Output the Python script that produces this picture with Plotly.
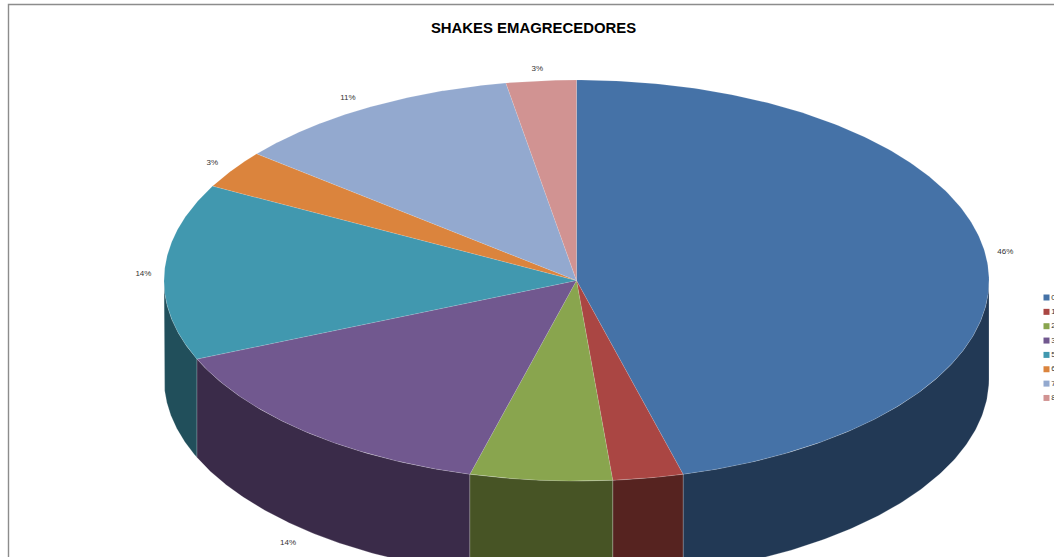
import numpy as np
import plotly.graph_objects as go

TITLE = "SHAKES EMAGRECEDORES"
categories = ["0", "1", "2", "3", "5", "6", "7", "8"]
values = [45.84, 2.76, 5.56, 14.43, 14.21, 3.08, 11.38, 2.74]
percent_labels = ["46%", "3%", "6%", "14%", "14%", "3%", "11%", "3%"]
top_colors = ["#4572A7", "#AA4643", "#89A54E", "#71588F", "#4198AF", "#DB843D", "#93A9CF", "#D19392"]
side_colors = ["#223955", "#562320", "#475425", "#3A2B49", "#214F5B", "#6E421E", "#4A5468", "#694A49"]

W, H = 1054, 557
CX, CY, RX, RY, DEPTH = 576.5, 280.5, 412.5, 200.5, 98.5
LABEL_DX, LABEL_DY = 20, 12
label_nudge_x = [0, 0, 0, -5, -1, -4, -10, -2]
label_nudge_y = [-1, 0, 0, 3, 3, 0, 1, 0]
LEGEND_X, LEGEND_Y0, LEGEND_STEP = 1046.5, 297.5, 14.35
SIDE_EDGE = "rgba(255,255,255,0.35)"
TOP_EDGE = "rgba(255,255,255,0.2)"

total = sum(values)
cum = np.concatenate([[0], np.cumsum(values)]) / total * 2 * np.pi


def ell(t, dy=0.0):
    return CX + RX * np.sin(t), CY - RY * np.cos(t) + dy


fig = go.Figure()

# frame
fig.add_shape(type="rect", x0=8.5, y0=4.5, x1=W + 20, y1=H + 20, line=dict(color="#8c8c8c", width=1.4), layer="below")

# outer wall: only the front half of the ellipse faces the viewer
order = sorted(range(len(values)), key=lambda i: -abs(np.pi - (cum[i] + cum[i + 1]) / 2))
for i in order:
    a, b = max(cum[i], np.pi / 2), min(cum[i + 1], 3 * np.pi / 2)
    if b <= a:
        continue
    t = np.linspace(a, b, 120)
    x1, y1 = ell(t)
    x2, y2 = ell(t[::-1], DEPTH)
    fig.add_trace(go.Scatter(
        x=np.r_[x1, x2, x1[0]], y=np.r_[y1, y2, y1[0]],
        mode="lines", fill="toself", fillcolor=side_colors[i],
        line=dict(color=SIDE_EDGE, width=0.6), hoverinfo="skip", showlegend=False,
    ))

# top face
for i in range(len(values)):
    t = np.linspace(cum[i], cum[i + 1], 240)
    x, y = ell(t)
    fig.add_trace(go.Scatter(
        x=np.r_[CX, x, CX], y=np.r_[CY, y, CY],
        mode="lines", fill="toself", fillcolor=top_colors[i],
        line=dict(color=TOP_EDGE, width=0.6),
        name=categories[i], hoverinfo="name", showlegend=False,
    ))

# percentage labels
mid = (cum[:-1] + cum[1:]) / 2
lx = CX + (RX + LABEL_DX) * np.sin(mid) + np.array(label_nudge_x)
ly = CY - (RY + LABEL_DY) * np.cos(mid) + np.where(np.cos(mid) < 0, DEPTH, 0) + np.array(label_nudge_y)
fig.add_trace(go.Scatter(
    x=lx, y=ly, mode="text",
    text=percent_labels,
    textposition="middle center",
    textfont=dict(family="Liberation Sans", size=8, color="#333333"),
    hoverinfo="skip", showlegend=False,
))

# legend column, clipped by the right edge as in the source
fig.add_trace(go.Scatter(
    x=[LEGEND_X] * len(categories),
    y=[LEGEND_Y0 + k * LEGEND_STEP for k in range(len(categories))],
    mode="markers+text",
    marker=dict(symbol="square", size=6, color=top_colors, line=dict(width=0)),
    text=categories, textposition="middle right",
    textfont=dict(family="Liberation Sans", size=8, color="#333333"),
    hoverinfo="skip", showlegend=False,
))

fig.update_layout(
    width=W, height=H, autosize=False,
    margin=dict(l=0, r=0, t=0, b=0),
    paper_bgcolor="white", plot_bgcolor="white", showlegend=False,
    title=dict(text=f"<b>{TITLE}</b>", x=533.5 / W, xanchor="center", y=1 - 28 / H, yanchor="middle",
               font=dict(family="Liberation Sans", size=14.9, color="black")),
    xaxis=dict(range=[0, W], visible=False, fixedrange=True),
    yaxis=dict(range=[H, 0], visible=False, fixedrange=True),
)

fig.write_html("out.html", config=dict(displayModeBar=False),
               post_script="document.body.style.margin='0';document.body.style.overflow='hidden';")
